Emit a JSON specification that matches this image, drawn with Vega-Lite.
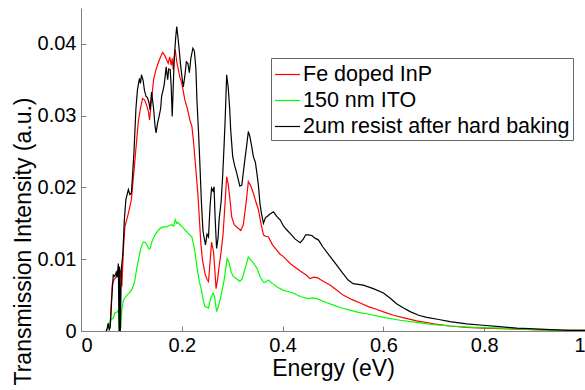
{
"$schema": "https://vega.github.io/schema/vega-lite/v6.json",
"width": 504, "height": 323,
"autosize": {"type": "none"},
"padding": {"left": 81, "top": 8, "right": 0, "bottom": 59},
"background": "white",
"config": {"view": {"stroke": null}, "font": "Liberation Sans"},
"data": {"values": [
{"s":"Fe doped InP","x":0.05,"y":0},{"s":"Fe doped InP","x":0.058,"y":0.001},{"s":"Fe doped InP","x":0.062,"y":0.0065},{"s":"Fe doped InP","x":0.066,"y":0.0072},{"s":"Fe doped InP","x":0.07,"y":0.0075},{"s":"Fe doped InP","x":0.073,"y":0.0085},{"s":"Fe doped InP","x":0.076,"y":0.007},{"s":"Fe doped InP","x":0.079,"y":0.0085},{"s":"Fe doped InP","x":0.081,"y":0.0062},{"s":"Fe doped InP","x":0.084,"y":0.0111},{"s":"Fe doped InP","x":0.087,"y":0.0145},{"s":"Fe doped InP","x":0.094,"y":0.0164},{"s":"Fe doped InP","x":0.1,"y":0.0183},{"s":"Fe doped InP","x":0.107,"y":0.0238},{"s":"Fe doped InP","x":0.114,"y":0.0294},{"s":"Fe doped InP","x":0.118,"y":0.031},{"s":"Fe doped InP","x":0.122,"y":0.0324},{"s":"Fe doped InP","x":0.126,"y":0.0322},{"s":"Fe doped InP","x":0.13,"y":0.0315},{"s":"Fe doped InP","x":0.134,"y":0.0305},{"s":"Fe doped InP","x":0.136,"y":0.0294},{"s":"Fe doped InP","x":0.139,"y":0.0315},{"s":"Fe doped InP","x":0.144,"y":0.035},{"s":"Fe doped InP","x":0.148,"y":0.0362},{"s":"Fe doped InP","x":0.153,"y":0.0373},{"s":"Fe doped InP","x":0.158,"y":0.0382},{"s":"Fe doped InP","x":0.162,"y":0.0388},{"s":"Fe doped InP","x":0.166,"y":0.0384},{"s":"Fe doped InP","x":0.17,"y":0.0378},{"s":"Fe doped InP","x":0.173,"y":0.0373},{"s":"Fe doped InP","x":0.176,"y":0.0382},{"s":"Fe doped InP","x":0.179,"y":0.037},{"s":"Fe doped InP","x":0.181,"y":0.038},{"s":"Fe doped InP","x":0.183,"y":0.0364},{"s":"Fe doped InP","x":0.185,"y":0.038},{"s":"Fe doped InP","x":0.187,"y":0.0392},{"s":"Fe doped InP","x":0.19,"y":0.0375},{"s":"Fe doped InP","x":0.193,"y":0.0365},{"s":"Fe doped InP","x":0.196,"y":0.0354},{"s":"Fe doped InP","x":0.2,"y":0.0345},{"s":"Fe doped InP","x":0.206,"y":0.0322},{"s":"Fe doped InP","x":0.211,"y":0.031},{"s":"Fe doped InP","x":0.216,"y":0.0294},{"s":"Fe doped InP","x":0.22,"y":0.0285},{"s":"Fe doped InP","x":0.223,"y":0.0266},{"s":"Fe doped InP","x":0.228,"y":0.0224},{"s":"Fe doped InP","x":0.232,"y":0.019},{"s":"Fe doped InP","x":0.235,"y":0.0155},{"s":"Fe doped InP","x":0.238,"y":0.012},{"s":"Fe doped InP","x":0.241,"y":0.0099},{"s":"Fe doped InP","x":0.246,"y":0.008},{"s":"Fe doped InP","x":0.25,"y":0.0072},{"s":"Fe doped InP","x":0.253,"y":0.0069},{"s":"Fe doped InP","x":0.256,"y":0.0095},{"s":"Fe doped InP","x":0.259,"y":0.0124},{"s":"Fe doped InP","x":0.263,"y":0.011},{"s":"Fe doped InP","x":0.266,"y":0.008},{"s":"Fe doped InP","x":0.268,"y":0.0059},{"s":"Fe doped InP","x":0.271,"y":0.0072},{"s":"Fe doped InP","x":0.274,"y":0.009},{"s":"Fe doped InP","x":0.278,"y":0.011},{"s":"Fe doped InP","x":0.282,"y":0.0136},{"s":"Fe doped InP","x":0.286,"y":0.018},{"s":"Fe doped InP","x":0.289,"y":0.0215},{"s":"Fe doped InP","x":0.292,"y":0.0205},{"s":"Fe doped InP","x":0.296,"y":0.018},{"s":"Fe doped InP","x":0.299,"y":0.0159},{"s":"Fe doped InP","x":0.304,"y":0.0148},{"s":"Fe doped InP","x":0.309,"y":0.0145},{"s":"Fe doped InP","x":0.317,"y":0.014},{"s":"Fe doped InP","x":0.322,"y":0.0148},{"s":"Fe doped InP","x":0.327,"y":0.0175},{"s":"Fe doped InP","x":0.332,"y":0.0208},{"s":"Fe doped InP","x":0.337,"y":0.0202},{"s":"Fe doped InP","x":0.342,"y":0.0192},{"s":"Fe doped InP","x":0.347,"y":0.018},{"s":"Fe doped InP","x":0.352,"y":0.0169},{"s":"Fe doped InP","x":0.357,"y":0.015},{"s":"Fe doped InP","x":0.362,"y":0.0134},{"s":"Fe doped InP","x":0.366,"y":0.0132},{"s":"Fe doped InP","x":0.372,"y":0.0131},{"s":"Fe doped InP","x":0.38,"y":0.012},{"s":"Fe doped InP","x":0.388,"y":0.0113},{"s":"Fe doped InP","x":0.395,"y":0.0107},{"s":"Fe doped InP","x":0.401,"y":0.0104},{"s":"Fe doped InP","x":0.408,"y":0.0099},{"s":"Fe doped InP","x":0.415,"y":0.0094},{"s":"Fe doped InP","x":0.428,"y":0.0087},{"s":"Fe doped InP","x":0.44,"y":0.0081},{"s":"Fe doped InP","x":0.447,"y":0.0078},{"s":"Fe doped InP","x":0.454,"y":0.0073},{"s":"Fe doped InP","x":0.462,"y":0.0075},{"s":"Fe doped InP","x":0.47,"y":0.0074},{"s":"Fe doped InP","x":0.474,"y":0.0072},{"s":"Fe doped InP","x":0.484,"y":0.0068},{"s":"Fe doped InP","x":0.494,"y":0.0064},{"s":"Fe doped InP","x":0.507,"y":0.0057},{"s":"Fe doped InP","x":0.52,"y":0.005},{"s":"Fe doped InP","x":0.537,"y":0.0044},{"s":"Fe doped InP","x":0.554,"y":0.0039},{"s":"Fe doped InP","x":0.57,"y":0.0034},{"s":"Fe doped InP","x":0.587,"y":0.003},{"s":"Fe doped InP","x":0.603,"y":0.0026},{"s":"Fe doped InP","x":0.62,"y":0.0022},{"s":"Fe doped InP","x":0.643,"y":0.0018},{"s":"Fe doped InP","x":0.666,"y":0.0014},{"s":"Fe doped InP","x":0.7,"y":0.001},{"s":"Fe doped InP","x":0.732,"y":0.0007},{"s":"Fe doped InP","x":0.765,"y":0.0005},{"s":"Fe doped InP","x":0.798,"y":0.0004},{"s":"Fe doped InP","x":0.85,"y":0.0003},{"s":"Fe doped InP","x":0.897,"y":0.0002},{"s":"Fe doped InP","x":0.95,"y":0.0001},{"s":"Fe doped InP","x":1.0,"y":0.0001},
{"s":"150 nm ITO","x":0.05,"y":0},{"s":"150 nm ITO","x":0.055,"y":0.0008},{"s":"150 nm ITO","x":0.058,"y":0.0015},{"s":"150 nm ITO","x":0.064,"y":0.0018},{"s":"150 nm ITO","x":0.067,"y":0.0025},{"s":"150 nm ITO","x":0.071,"y":0.0026},{"s":"150 nm ITO","x":0.074,"y":0.0029},{"s":"150 nm ITO","x":0.077,"y":0},{"s":"150 nm ITO","x":0.079,"y":0.0005},{"s":"150 nm ITO","x":0.081,"y":0.003},{"s":"150 nm ITO","x":0.084,"y":0.0043},{"s":"150 nm ITO","x":0.088,"y":0.0047},{"s":"150 nm ITO","x":0.091,"y":0.005},{"s":"150 nm ITO","x":0.096,"y":0.0053},{"s":"150 nm ITO","x":0.1,"y":0.0057},{"s":"150 nm ITO","x":0.104,"y":0.0063},{"s":"150 nm ITO","x":0.107,"y":0.0071},{"s":"150 nm ITO","x":0.11,"y":0.0085},{"s":"150 nm ITO","x":0.114,"y":0.0099},{"s":"150 nm ITO","x":0.118,"y":0.0113},{"s":"150 nm ITO","x":0.122,"y":0.0122},{"s":"150 nm ITO","x":0.124,"y":0.0124},{"s":"150 nm ITO","x":0.128,"y":0.0123},{"s":"150 nm ITO","x":0.132,"y":0.0118},{"s":"150 nm ITO","x":0.135,"y":0.0114},{"s":"150 nm ITO","x":0.137,"y":0.0115},{"s":"150 nm ITO","x":0.141,"y":0.0125},{"s":"150 nm ITO","x":0.147,"y":0.0134},{"s":"150 nm ITO","x":0.152,"y":0.0139},{"s":"150 nm ITO","x":0.157,"y":0.0143},{"s":"150 nm ITO","x":0.163,"y":0.0145},{"s":"150 nm ITO","x":0.17,"y":0.0145},{"s":"150 nm ITO","x":0.175,"y":0.0147},{"s":"150 nm ITO","x":0.18,"y":0.0148},{"s":"150 nm ITO","x":0.184,"y":0.0146},{"s":"150 nm ITO","x":0.187,"y":0.0155},{"s":"150 nm ITO","x":0.19,"y":0.015},{"s":"150 nm ITO","x":0.193,"y":0.0151},{"s":"150 nm ITO","x":0.196,"y":0.0148},{"s":"150 nm ITO","x":0.2,"y":0.0146},{"s":"150 nm ITO","x":0.206,"y":0.0141},{"s":"150 nm ITO","x":0.213,"y":0.0136},{"s":"150 nm ITO","x":0.22,"y":0.0131},{"s":"150 nm ITO","x":0.225,"y":0.0115},{"s":"150 nm ITO","x":0.23,"y":0.009},{"s":"150 nm ITO","x":0.235,"y":0.0068},{"s":"150 nm ITO","x":0.239,"y":0.0057},{"s":"150 nm ITO","x":0.243,"y":0.0042},{"s":"150 nm ITO","x":0.246,"y":0.0034},{"s":"150 nm ITO","x":0.25,"y":0.0033},{"s":"150 nm ITO","x":0.253,"y":0.0032},{"s":"150 nm ITO","x":0.257,"y":0.0045},{"s":"150 nm ITO","x":0.262,"y":0.0053},{"s":"150 nm ITO","x":0.265,"y":0.0048},{"s":"150 nm ITO","x":0.269,"y":0.0027},{"s":"150 nm ITO","x":0.272,"y":0.0033},{"s":"150 nm ITO","x":0.276,"y":0.0043},{"s":"150 nm ITO","x":0.28,"y":0.0057},{"s":"150 nm ITO","x":0.284,"y":0.0071},{"s":"150 nm ITO","x":0.29,"y":0.0101},{"s":"150 nm ITO","x":0.294,"y":0.0095},{"s":"150 nm ITO","x":0.298,"y":0.0082},{"s":"150 nm ITO","x":0.302,"y":0.0076},{"s":"150 nm ITO","x":0.308,"y":0.0073},{"s":"150 nm ITO","x":0.315,"y":0.0069},{"s":"150 nm ITO","x":0.32,"y":0.0073},{"s":"150 nm ITO","x":0.326,"y":0.0088},{"s":"150 nm ITO","x":0.332,"y":0.0103},{"s":"150 nm ITO","x":0.338,"y":0.0098},{"s":"150 nm ITO","x":0.344,"y":0.0093},{"s":"150 nm ITO","x":0.35,"y":0.0086},{"s":"150 nm ITO","x":0.355,"y":0.0076},{"s":"150 nm ITO","x":0.362,"y":0.0068},{"s":"150 nm ITO","x":0.366,"y":0.0068},{"s":"150 nm ITO","x":0.372,"y":0.0071},{"s":"150 nm ITO","x":0.38,"y":0.0066},{"s":"150 nm ITO","x":0.39,"y":0.0061},{"s":"150 nm ITO","x":0.401,"y":0.0057},{"s":"150 nm ITO","x":0.415,"y":0.0054},{"s":"150 nm ITO","x":0.421,"y":0.0053},{"s":"150 nm ITO","x":0.435,"y":0.0048},{"s":"150 nm ITO","x":0.45,"y":0.0045},{"s":"150 nm ITO","x":0.46,"y":0.0046},{"s":"150 nm ITO","x":0.468,"y":0.0045},{"s":"150 nm ITO","x":0.485,"y":0.004},{"s":"150 nm ITO","x":0.501,"y":0.0036},{"s":"150 nm ITO","x":0.517,"y":0.0032},{"s":"150 nm ITO","x":0.534,"y":0.0029},{"s":"150 nm ITO","x":0.55,"y":0.0026},{"s":"150 nm ITO","x":0.567,"y":0.0024},{"s":"150 nm ITO","x":0.6,"y":0.0019},{"s":"150 nm ITO","x":0.633,"y":0.0015},{"s":"150 nm ITO","x":0.666,"y":0.0012},{"s":"150 nm ITO","x":0.7,"y":0.0009},{"s":"150 nm ITO","x":0.732,"y":0.0007},{"s":"150 nm ITO","x":0.78,"y":0.0005},{"s":"150 nm ITO","x":0.831,"y":0.0004},{"s":"150 nm ITO","x":0.9,"y":0.0002},{"s":"150 nm ITO","x":0.95,"y":0.0001},{"s":"150 nm ITO","x":1.0,"y":0.0001},
{"s":"2um resist after hard baking","x":0.05,"y":0},{"s":"2um resist after hard baking","x":0.052,"y":0.0004},{"s":"2um resist after hard baking","x":0.054,"y":0.0011},{"s":"2um resist after hard baking","x":0.056,"y":0.0002},{"s":"2um resist after hard baking","x":0.058,"y":0.0005},{"s":"2um resist after hard baking","x":0.061,"y":0.0045},{"s":"2um resist after hard baking","x":0.064,"y":0.0078},{"s":"2um resist after hard baking","x":0.067,"y":0.0076},{"s":"2um resist after hard baking","x":0.07,"y":0.0082},{"s":"2um resist after hard baking","x":0.072,"y":0.0075},{"s":"2um resist after hard baking","x":0.074,"y":0.0094},{"s":"2um resist after hard baking","x":0.0755,"y":0},{"s":"2um resist after hard baking","x":0.0765,"y":0.009},{"s":"2um resist after hard baking","x":0.078,"y":0},{"s":"2um resist after hard baking","x":0.08,"y":0.0085},{"s":"2um resist after hard baking","x":0.083,"y":0.0108},{"s":"2um resist after hard baking","x":0.086,"y":0.0155},{"s":"2um resist after hard baking","x":0.089,"y":0.0183},{"s":"2um resist after hard baking","x":0.094,"y":0.0197},{"s":"2um resist after hard baking","x":0.097,"y":0.019},{"s":"2um resist after hard baking","x":0.1,"y":0.0192},{"s":"2um resist after hard baking","x":0.105,"y":0.0248},{"s":"2um resist after hard baking","x":0.109,"y":0.031},{"s":"2um resist after hard baking","x":0.112,"y":0.0336},{"s":"2um resist after hard baking","x":0.116,"y":0.0352},{"s":"2um resist after hard baking","x":0.118,"y":0.0345},{"s":"2um resist after hard baking","x":0.12,"y":0.0357},{"s":"2um resist after hard baking","x":0.123,"y":0.035},{"s":"2um resist after hard baking","x":0.126,"y":0.0335},{"s":"2um resist after hard baking","x":0.129,"y":0.0327},{"s":"2um resist after hard baking","x":0.132,"y":0.0325},{"s":"2um resist after hard baking","x":0.135,"y":0.0318},{"s":"2um resist after hard baking","x":0.137,"y":0.0308},{"s":"2um resist after hard baking","x":0.14,"y":0.0333},{"s":"2um resist after hard baking","x":0.144,"y":0.031},{"s":"2um resist after hard baking","x":0.147,"y":0.0285},{"s":"2um resist after hard baking","x":0.149,"y":0.0276},{"s":"2um resist after hard baking","x":0.152,"y":0.029},{"s":"2um resist after hard baking","x":0.155,"y":0.0299},{"s":"2um resist after hard baking","x":0.158,"y":0.031},{"s":"2um resist after hard baking","x":0.16,"y":0.0327},{"s":"2um resist after hard baking","x":0.163,"y":0.0336},{"s":"2um resist after hard baking","x":0.165,"y":0.0343},{"s":"2um resist after hard baking","x":0.167,"y":0.0355},{"s":"2um resist after hard baking","x":0.169,"y":0.0368},{"s":"2um resist after hard baking","x":0.172,"y":0.035},{"s":"2um resist after hard baking","x":0.174,"y":0.0365},{"s":"2um resist after hard baking","x":0.177,"y":0.0364},{"s":"2um resist after hard baking","x":0.179,"y":0.034},{"s":"2um resist after hard baking","x":0.181,"y":0.0299},{"s":"2um resist after hard baking","x":0.183,"y":0.034},{"s":"2um resist after hard baking","x":0.185,"y":0.038},{"s":"2um resist after hard baking","x":0.188,"y":0.041},{"s":"2um resist after hard baking","x":0.19,"y":0.0424},{"s":"2um resist after hard baking","x":0.193,"y":0.0405},{"s":"2um resist after hard baking","x":0.195,"y":0.039},{"s":"2um resist after hard baking","x":0.198,"y":0.0368},{"s":"2um resist after hard baking","x":0.201,"y":0.035},{"s":"2um resist after hard baking","x":0.203,"y":0.034},{"s":"2um resist after hard baking","x":0.206,"y":0.0355},{"s":"2um resist after hard baking","x":0.209,"y":0.0375},{"s":"2um resist after hard baking","x":0.212,"y":0.0373},{"s":"2um resist after hard baking","x":0.215,"y":0.036},{"s":"2um resist after hard baking","x":0.218,"y":0.038},{"s":"2um resist after hard baking","x":0.222,"y":0.0394},{"s":"2um resist after hard baking","x":0.225,"y":0.039},{"s":"2um resist after hard baking","x":0.228,"y":0.0365},{"s":"2um resist after hard baking","x":0.23,"y":0.0322},{"s":"2um resist after hard baking","x":0.233,"y":0.028},{"s":"2um resist after hard baking","x":0.235,"y":0.0248},{"s":"2um resist after hard baking","x":0.239,"y":0.0178},{"s":"2um resist after hard baking","x":0.242,"y":0.014},{"s":"2um resist after hard baking","x":0.244,"y":0.0131},{"s":"2um resist after hard baking","x":0.247,"y":0.012},{"s":"2um resist after hard baking","x":0.25,"y":0.0135},{"s":"2um resist after hard baking","x":0.253,"y":0.0131},{"s":"2um resist after hard baking","x":0.256,"y":0.0173},{"s":"2um resist after hard baking","x":0.259,"y":0.0199},{"s":"2um resist after hard baking","x":0.262,"y":0.0195},{"s":"2um resist after hard baking","x":0.264,"y":0.0201},{"s":"2um resist after hard baking","x":0.266,"y":0.016},{"s":"2um resist after hard baking","x":0.269,"y":0.0115},{"s":"2um resist after hard baking","x":0.272,"y":0.013},{"s":"2um resist after hard baking","x":0.274,"y":0.0155},{"s":"2um resist after hard baking","x":0.278,"y":0.018},{"s":"2um resist after hard baking","x":0.281,"y":0.0215},{"s":"2um resist after hard baking","x":0.284,"y":0.026},{"s":"2um resist after hard baking","x":0.286,"y":0.0294},{"s":"2um resist after hard baking","x":0.289,"y":0.0357},{"s":"2um resist after hard baking","x":0.292,"y":0.034},{"s":"2um resist after hard baking","x":0.295,"y":0.031},{"s":"2um resist after hard baking","x":0.297,"y":0.028},{"s":"2um resist after hard baking","x":0.301,"y":0.0243},{"s":"2um resist after hard baking","x":0.305,"y":0.023},{"s":"2um resist after hard baking","x":0.309,"y":0.022},{"s":"2um resist after hard baking","x":0.315,"y":0.0202},{"s":"2um resist after hard baking","x":0.319,"y":0.0203},{"s":"2um resist after hard baking","x":0.325,"y":0.0238},{"s":"2um resist after hard baking","x":0.329,"y":0.026},{"s":"2um resist after hard baking","x":0.332,"y":0.0278},{"s":"2um resist after hard baking","x":0.335,"y":0.0271},{"s":"2um resist after hard baking","x":0.338,"y":0.026},{"s":"2um resist after hard baking","x":0.342,"y":0.0243},{"s":"2um resist after hard baking","x":0.346,"y":0.0235},{"s":"2um resist after hard baking","x":0.349,"y":0.022},{"s":"2um resist after hard baking","x":0.352,"y":0.0203},{"s":"2um resist after hard baking","x":0.355,"y":0.0178},{"s":"2um resist after hard baking","x":0.358,"y":0.0164},{"s":"2um resist after hard baking","x":0.362,"y":0.015},{"s":"2um resist after hard baking","x":0.366,"y":0.0158},{"s":"2um resist after hard baking","x":0.37,"y":0.016},{"s":"2um resist after hard baking","x":0.375,"y":0.0163},{"s":"2um resist after hard baking","x":0.382,"y":0.0166},{"s":"2um resist after hard baking","x":0.388,"y":0.016},{"s":"2um resist after hard baking","x":0.395,"y":0.0155},{"s":"2um resist after hard baking","x":0.402,"y":0.0146},{"s":"2um resist after hard baking","x":0.408,"y":0.0141},{"s":"2um resist after hard baking","x":0.415,"y":0.0136},{"s":"2um resist after hard baking","x":0.425,"y":0.0128},{"s":"2um resist after hard baking","x":0.435,"y":0.0123},{"s":"2um resist after hard baking","x":0.441,"y":0.0128},{"s":"2um resist after hard baking","x":0.446,"y":0.0134},{"s":"2um resist after hard baking","x":0.451,"y":0.0134},{"s":"2um resist after hard baking","x":0.458,"y":0.0133},{"s":"2um resist after hard baking","x":0.465,"y":0.0129},{"s":"2um resist after hard baking","x":0.471,"y":0.0127},{"s":"2um resist after hard baking","x":0.48,"y":0.0117},{"s":"2um resist after hard baking","x":0.494,"y":0.0104},{"s":"2um resist after hard baking","x":0.507,"y":0.0092},{"s":"2um resist after hard baking","x":0.52,"y":0.008},{"s":"2um resist after hard baking","x":0.53,"y":0.0071},{"s":"2um resist after hard baking","x":0.54,"y":0.0066},{"s":"2um resist after hard baking","x":0.55,"y":0.0065},{"s":"2um resist after hard baking","x":0.56,"y":0.0064},{"s":"2um resist after hard baking","x":0.58,"y":0.0059},{"s":"2um resist after hard baking","x":0.6,"y":0.0053},{"s":"2um resist after hard baking","x":0.613,"y":0.0046},{"s":"2um resist after hard baking","x":0.626,"y":0.0038},{"s":"2um resist after hard baking","x":0.64,"y":0.0032},{"s":"2um resist after hard baking","x":0.653,"y":0.0027},{"s":"2um resist after hard baking","x":0.67,"y":0.0022},{"s":"2um resist after hard baking","x":0.686,"y":0.0019},{"s":"2um resist after hard baking","x":0.71,"y":0.0016},{"s":"2um resist after hard baking","x":0.732,"y":0.0013},{"s":"2um resist after hard baking","x":0.765,"y":0.001},{"s":"2um resist after hard baking","x":0.798,"y":0.0008},{"s":"2um resist after hard baking","x":0.83,"y":0.0006},{"s":"2um resist after hard baking","x":0.865,"y":0.0004},{"s":"2um resist after hard baking","x":0.9,"y":0.0003},{"s":"2um resist after hard baking","x":0.931,"y":0.0002},{"s":"2um resist after hard baking","x":0.97,"y":0.0001},{"s":"2um resist after hard baking","x":1.0,"y":0.0001}
]},
"mark": {"type": "line", "strokeWidth": 1.2, "clip": true},
"encoding": {
 "x": {"field": "x", "type": "quantitative", "scale": {"domain": [0, 1], "nice": false},
  "axis": {"title": "Energy (eV)", "values": [0, 0.2, 0.4, 0.6, 0.8, 1], "format": ".1~f", "grid": false, "domainColor": "#808080", "tickColor": "#808080", "tickSize": -5, "labelColor": "#000", "labelFontSize": 20, "labelPadding": 9, "titleFontSize": 23, "titleFontWeight": "normal", "titleColor": "#000", "titlePadding": 2}},
 "y": {"field": "y", "type": "quantitative", "scale": {"domain": [0, 0.045], "nice": false},
  "axis": {"title": "Transmission Intensity (a.u.)", "values": [0, 0.01, 0.02, 0.03, 0.04], "format": ".2~f", "grid": false, "domainColor": "#808080", "tickColor": "#808080", "tickSize": -5, "labelColor": "#000", "labelFontSize": 20, "labelPadding": 10, "titleFontSize": 23, "titleFontWeight": "normal", "titleColor": "#000", "titleX": -58, "titleY": 233, "titleBaseline": "middle", "titleAlign": "center"}},
 "color": {"field": "s", "type": "nominal",
  "scale": {"domain": ["Fe doped InP", "150 nm ITO", "2um resist after hard baking"], "range": ["#ff0000", "#00ff00", "#000000"]},
  "legend": {"title": null, "orient": "none", "legendX": 190, "legendY": 50, "symbolType": "stroke", "symbolSize": 625, "symbolStrokeWidth": 1.2, "labelFontSize": 21.5, "labelColor": "#000", "labelOffset": 2, "labelLimit": 400, "rowPadding": 2, "padding": 3, "strokeColor": "#666", "fillColor": "white"}}
}
}
